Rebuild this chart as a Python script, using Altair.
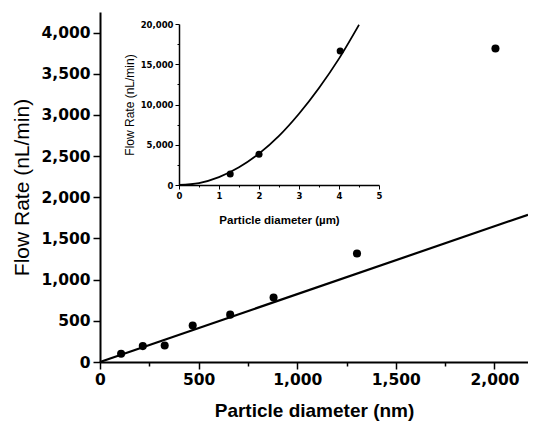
import altair as alt
import pandas as pd

# main panel data (particle diameter in nm, flow rate in nL/min)
main_d = [107, 217, 328, 470, 660, 880, 1303, 2005]
main_q = [100, 193, 201, 442, 575, 783, 1317, 3807]
# fitted straight line (read at its ends)
fit_d = [0, 2170]
fit_q = [0, 1788]

# inset data (particle diameter in um)
ins_d = [1.28, 2.0, 4.03]
ins_q = [1366, 3814, 16646]
# fitted curve
curve_d = [0, 0.5, 1.0, 1.5, 2.0, 2.5, 3.0, 3.5, 4.0, 4.5]
curve_q = [0, 240, 980, 2200, 3900, 6100, 8850, 12050, 15700, 19900]

main_x_ticks = [i * 250 for i in range(9)]
main_y_ticks = [i * 250 for i in range(18)]
ins_x_ticks = [i * 0.5 for i in range(11)]
ins_y_ticks = [i * 2500 for i in range(9)]

W, H = 428, 350

df_main = pd.DataFrame({"d": main_d, "q": main_q})
df_fit = pd.DataFrame({"d": fit_d, "q": fit_q})
df_ins = pd.DataFrame({"d": ins_d, "q": ins_q})
df_curve = pd.DataFrame({"d": curve_d, "q": curve_q})

BIG = "DejaVu Sans"

xs = alt.Scale(domain=[0, 2170], nice=False, zero=True)
ys = alt.Scale(domain=[0, 4250], nice=False, zero=True)

x_axis = alt.Axis(
    values=main_x_ticks,
    labelExpr="datum.value % 500 === 0 ? format(datum.value, ',') : ''",
    tickSize={"condition": {"test": "datum.value % 500 === 0", "value": 7}, "value": 4},
    labelPadding=3,
    labelFont=BIG, labelFontSize=15.5, labelFontWeight="bold", labelColor="black",
    labelFlush=False, labelOverlap=False,
    title="Particle diameter (nm)", titleFont="Liberation Sans", titleFontSize=19,
    titleFontWeight="bold", titleColor="black", titlePadding=14,
    domainColor="black", domainWidth=2, tickColor="black", tickWidth=1.5,
    grid=False,
)
y_axis = alt.Axis(
    values=main_y_ticks,
    labelExpr="datum.value % 500 === 0 ? format(datum.value, ',') : ''",
    tickSize={"condition": {"test": "datum.value % 500 === 0", "value": 7}, "value": 4},
    labelPadding=3,
    labelFont=BIG, labelFontSize=15.5, labelFontWeight="bold", labelColor="black",
    labelFlush=False, labelOverlap=False,
    title="Flow Rate (nL/min)", titleFont="Liberation Sans", titleFontSize=21,
    titleFontWeight="normal", titleColor="black", titlePadding=8,
    domainColor="black", domainWidth=2, tickColor="black", tickWidth=1.5,
    grid=False,
)

main_pts = alt.Chart(df_main).mark_circle(size=65, color="black", opacity=1).encode(
    x=alt.X("d:Q", scale=xs, axis=x_axis),
    y=alt.Y("q:Q", scale=ys, axis=y_axis),
)
main_line = alt.Chart(df_fit).mark_line(color="black", strokeWidth=2.2).encode(
    x=alt.X("d:Q", scale=xs),
    y=alt.Y("q:Q", scale=ys),
)
main = alt.layer(main_line, main_pts)

# inset placed inside the plot area through its own scale ranges
IX0, IX1 = 79, 279
IY0, IY1 = 173, 12
ixs = alt.Scale(domain=[0, 5], range=[IX0, IX1], nice=False)
iys = alt.Scale(domain=[0, 20000], range=[IY0, IY1], nice=False)

ix_axis = alt.Axis(
    orient="bottom", offset=-(H - IY0),
    values=ins_x_ticks,
    labelExpr="datum.value % 1 === 0 ? format(datum.value, 'd') : ''",
    tickSize={"condition": {"test": "datum.value % 1 === 0", "value": 4}, "value": 2},
    labelPadding=2,
    labelFont=BIG, labelFontSize=8.5, labelFontWeight="bold", labelColor="black",
    labelFlush=False, labelOverlap=False,
    title="Particle diameter (\u00b5m)", titleFont="Liberation Sans", titleFontSize=11.5,
    titleFontWeight="bold", titleColor="black", titlePadding=15,
    domainColor="black", domainWidth=1.5, tickColor="black", tickWidth=1,
    grid=False,
)
iy_axis = alt.Axis(
    orient="left", offset=-IX0,
    values=ins_y_ticks,
    labelExpr="datum.value % 5000 === 0 ? format(datum.value, ',') : ''",
    tickSize={"condition": {"test": "datum.value % 5000 === 0", "value": 4}, "value": 2},
    labelPadding=2,
    labelFont=BIG, labelFontSize=8.5, labelFontWeight="bold", labelColor="black",
    labelFlush=False, labelOverlap=False,
    title="Flow Rate (nL/min)", titleFont="Liberation Sans", titleFontSize=12,
    titleFontWeight="normal", titleColor="black", titlePadding=4,
    domainColor="black", domainWidth=1.5, tickColor="black", tickWidth=1,
    grid=False,
)

ins_curve = alt.Chart(df_curve).mark_line(color="black", strokeWidth=1.8, interpolate="monotone").encode(
    x=alt.X("d:Q", scale=ixs, axis=ix_axis),
    y=alt.Y("q:Q", scale=iys, axis=iy_axis),
)
ins_pts = alt.Chart(df_ins).mark_circle(size=50, color="black", opacity=1).encode(
    x=alt.X("d:Q", scale=ixs),
    y=alt.Y("q:Q", scale=iys),
)
inset = alt.layer(ins_curve, ins_pts)

chart = alt.layer(main, inset).resolve_scale(
    x="independent", y="independent"
).properties(
    width=W, height=H,
    autosize=alt.AutoSizeParams(type="none"),
    padding={"left": 92, "top": 4, "right": 0, "bottom": 62},
    background="white",
).configure_view(stroke=None)

chart.save("out.html", embed_options={"renderer": "svg", "actions": False})
